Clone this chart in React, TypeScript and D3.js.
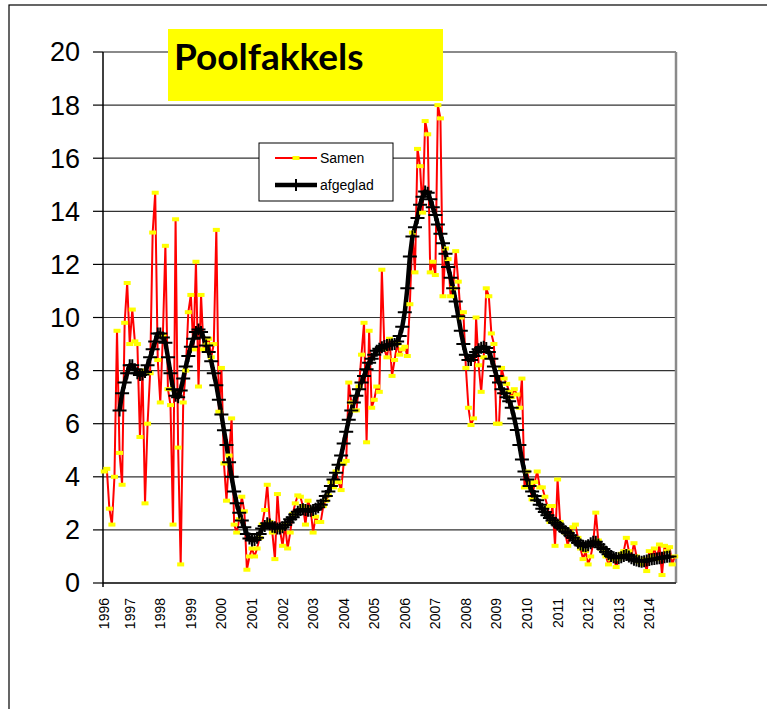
import * as d3 from "d3"
import React from "react"

// maandwaarden, maart 1996 t/m november 2014
const samen = [
  4.2, 4.3, 2.8, 2.2, 4.0, 9.5, 4.9, 3.7, 9.8, 11.3,
  9.0, 10.3, 9.1, 9.0, 5.5, 8.0, 3.0, 6.0, 7.9, 13.2, 14.7, 8.4,
  6.8, 9.3, 12.7, 7.3, 6.7, 2.2, 13.7, 5.1, 0.7, 6.8, 8.0, 10.2,
  10.85, 8.8, 12.1, 7.4, 10.85, 8.8, 9.0, 9.2, 8.5, 9.0, 13.3, 6.45,
  8.1, 4.5, 3.1, 4.8, 6.2, 2.2, 1.9, 2.4, 3.25, 2.7, 0.5, 1.0,
  1.3, 1.0, 1.3, 1.7, 2.2, 2.75, 3.7, 2.3, 1.9, 0.9, 3.35, 2.0,
  1.4, 2.2, 1.3, 1.9, 2.6, 3.0, 3.3, 3.25, 2.9, 2.2, 3.1, 2.8,
  1.9, 2.5, 2.3, 2.3, 2.9, 3.1, 3.3, 3.8, 3.6, 4.2, 3.8, 3.5,
  4.5, 4.6, 7.55, 6.8, 6.5, 6.5, 7.4, 8.6, 9.8, 5.3, 9.5, 6.6,
  6.9, 7.4, 7.2, 11.8, 8.8, 8.5, 9.2, 7.8, 8.4, 9.0, 8.6, 8.8,
  8.9, 8.55, 10.5, 13.2, 11.7, 16.35, 15.7, 13.95, 17.4, 16.9, 11.7, 12.1,
  11.6, 18.0, 17.5, 10.8, 12.6, 12.2, 10.8, 11.1, 12.5, 11.35, 10.0, 10.2,
  8.1, 6.6, 5.95, 6.2, 10.0, 8.2, 7.2, 8.5, 11.1, 10.8, 9.4, 9.0,
  6.0, 6.0, 8.1, 7.7, 7.5, 7.2, 7.0, 7.3, 7.1, 6.6, 7.7, 3.6,
  4.2, 3.75, 3.15, 3.8, 4.2, 3.6, 3.6, 3.25, 2.9, 2.3, 2.9, 1.4,
  3.9, 2.3, 2.0, 1.9, 1.4, 1.9, 2.1, 2.2, 1.7, 1.3, 0.9, 1.2,
  0.7, 1.0, 1.5, 2.65, 1.6, 1.3, 1.2, 1.0, 0.7, 0.9, 1.0, 0.6,
  0.9, 1.1, 1.2, 1.7, 1.2, 1.0, 1.5, 1.0, 0.8, 0.7, 0.9, 0.45,
  1.2, 1.0, 1.3, 0.9, 1.45, 0.3, 1.4, 1.2, 1.35, 0.7, 1.0,
]

// afgevlakte reeks, begint bij maand 6
const afgegladStart = 6
const afgeglad = [
  6.5, 7.15, 7.55, 7.9, 8.2, 8.2, 8.05, 7.9, 7.83, 7.85,
  7.95, 8.2, 8.5, 8.8, 9.1, 9.4, 9.4, 9.25, 9.05, 8.5,
  7.9, 7.3, 7.05, 7.0, 7.25, 7.7, 8.15, 8.55, 8.9, 9.2,
  9.45, 9.55, 9.45, 9.25, 8.95, 8.7, 8.35, 7.9, 7.45, 6.9,
  6.35, 5.75, 5.2, 4.55, 4.0, 3.45, 3.0, 2.65, 2.35, 2.1,
  1.85, 1.68, 1.6, 1.62, 1.7, 1.85, 2.05, 2.15, 2.25, 2.2,
  2.12, 2.1, 2.05, 2.05, 2.1, 2.18, 2.28, 2.4, 2.48, 2.58,
  2.68, 2.75, 2.78, 2.75, 2.72, 2.72, 2.75, 2.8, 2.85, 2.95,
  3.1, 3.28, 3.45, 3.65, 3.9, 4.15, 4.45, 4.8, 5.25, 5.7,
  6.15, 6.5, 6.8, 7.05, 7.3, 7.55, 7.8, 8.05, 8.3, 8.45,
  8.6, 8.75, 8.82, 8.88, 8.93, 8.96, 8.97, 8.98, 9.0, 9.1,
  9.3, 9.65, 10.2, 11.1, 12.3, 13.05, 13.4, 13.75, 14.25, 14.55,
  14.75, 14.7, 14.45, 14.15, 13.86, 13.5, 13.15, 12.8, 12.4, 11.9,
  11.5, 11.1, 10.6, 10.05, 9.5, 9.0, 8.6, 8.4, 8.4, 8.55,
  8.7, 8.8, 8.86, 8.9, 8.85, 8.7, 8.45, 8.15, 7.8, 7.55,
  7.3, 7.15, 7.0, 6.85, 6.6, 6.2, 5.76, 5.2, 4.65, 4.2,
  3.9, 3.65, 3.45, 3.28, 3.12, 2.95, 2.8, 2.67, 2.55, 2.45,
  2.35, 2.27, 2.2, 2.12, 2.05, 1.95, 1.88, 1.8, 1.7, 1.6,
  1.52, 1.45, 1.4, 1.38, 1.42, 1.5, 1.55, 1.55, 1.45, 1.35,
  1.28, 1.18, 1.08, 1.02, 0.97, 0.94, 0.93, 0.97, 1.02, 1.05,
  1.0, 0.93, 0.88, 0.85, 0.82, 0.8, 0.82, 0.85, 0.87, 0.89,
  0.9, 0.92, 0.93, 0.95, 0.97, 0.99, 1.0,
]

// jaarlabels: eerste maand en daarna elke januari
const jaren = d3.range(1996, 2015).map(String)
const jaarIndex = jaren.map((j, k) => (k === 0 ? 0 : 10 + (k - 1) * 12))
const yTicks = [0, 2, 4, 6, 8, 10, 12, 14, 16, 18, 20]

export default function App() {
  const W = 767
  const H = 709
  const left = 103
  const right = 676
  const top = 52
  const bottom = 583

  const x = d3.scalePoint<number>()
    .domain(d3.range(samen.length))
    .range([left, right])
    .padding(0.5)
  const y = d3.scaleLinear().domain([0, 20]).range([bottom, top])

  const samenPts: [number, number][] = samen.map((v, i) => [x(i)!, y(v)])
  const gladPts: [number, number][] = afgeglad.map((v, i) => [x(i + afgegladStart)!, y(v)])
  const line = d3.line()

  const arial = "'Liberation Sans', Arial, sans-serif"

  return (
    <svg width={W} height={H} style={{ position: "absolute", left: 0, top: 0 }}>
      <rect x={0} y={0} width={W} height={H} fill="#fff" />
      <rect x={9} y={5} width={W + 20} height={H + 20} fill="none" stroke="#000" strokeWidth={1.2} />

      {/* rasterlijnen */}
      {yTicks.map(t => (
        <line key={"g" + t} x1={left} x2={right} y1={y(t)} y2={y(t)}
          stroke={t === 20 ? "#8a8a8a" : "#333"} strokeWidth={t === 20 ? 2 : 1.2} />
      ))}
      <line x1={right} x2={right} y1={top} y2={bottom} stroke="#8a8a8a" strokeWidth={2.5} />
      <line x1={left} x2={right} y1={bottom} y2={bottom} stroke="#222" strokeWidth={1.5} />
      <line x1={left} x2={left} y1={top} y2={bottom + 4} stroke="#000" strokeWidth={1.5} />

      {yTicks.map(t => (
        <g key={"t" + t}>
          <line x1={left - 10} x2={left} y1={y(t)} y2={y(t)} stroke="#000" strokeWidth={1.2} />
          <text x={80} y={y(t)} dy="0.35em" textAnchor="end" fontFamily={arial} fontSize={27}>{t}</text>
        </g>
      ))}

      {jaren.map((j, k) => (
        <text key={j} transform={`translate(${x(jaarIndex[k])! + 5},598) rotate(-90)`}
          textAnchor="end" fontFamily={arial} fontSize={14}>{j}</text>
      ))}

      {/* reeksen */}
      <path d={line(samenPts)!} fill="none" stroke="#ff0000" strokeWidth={2} strokeLinejoin="round" />
      <path d={line(gladPts)!} fill="none" stroke="#000" strokeWidth={4.5} strokeLinejoin="round" />
      {samenPts.map(([px, py], i) => (
        <rect key={"m" + i} x={px - 3.5} y={py - 2} width={7} height={4} fill="#ffff00" />
      ))}
      {gladPts.map(([px, py], i) => (
        <path key={"p" + i} d={`M${px - 7},${py}H${px + 7}M${px},${py - 6}V${py + 6}`}
          stroke="#000" strokeWidth={2} />
      ))}

      {/* titel */}
      <rect x={168} y={29} width={275} height={72} fill="#ffff00" />
      <text x={174} y={70} fontFamily="Lato, 'Open Sans', sans-serif" fontWeight="bold" fontSize={37}>Poolfakkels</text>

      {/* legenda */}
      <rect x={259} y={143} width={134} height={58} fill="#fff" stroke="#000" strokeWidth={1} />
      <line x1={275} x2={317} y1={158} y2={158} stroke="#ff0000" strokeWidth={2} />
      <rect x={292.5} y={156} width={7} height={4} fill="#ffff00" />
      <text x={320} y={163} fontFamily={arial} fontSize={14}>Samen</text>
      <line x1={275} x2={317} y1={185} y2={185} stroke="#000" strokeWidth={4.5} />
      <path d="M296,179V191" stroke="#000" strokeWidth={2} />
      <text x={320} y={190} fontFamily={arial} fontSize={14}>afgeglad</text>
    </svg>
  )
}
